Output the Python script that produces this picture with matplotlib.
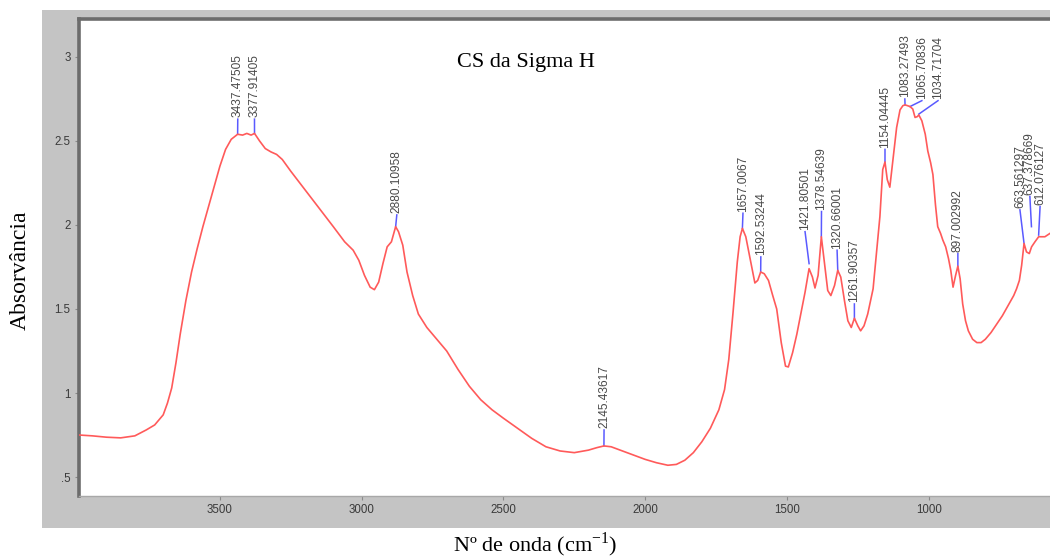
import matplotlib
matplotlib.use("Agg")
import matplotlib.pyplot as plt
from matplotlib.patches import Rectangle
from matplotlib.ticker import FixedLocator, FuncFormatter

# absorbance spectrum, wavenumber in cm-1
wavenumber = [
    3997, 3950, 3900, 3850, 3800, 3760, 3730, 3700, 3685, 3670, 3655, 3640, 3620,
    3600, 3580, 3560, 3540, 3520, 3500, 3480, 3460, 3437.47505, 3420, 3405, 3390,
    3377.91405, 3360, 3340, 3320, 3300, 3280, 3250, 3200, 3150, 3100, 3060, 3030,
    3010, 2990, 2970, 2955, 2940, 2925, 2910, 2895, 2880.10958, 2870, 2855, 2840,
    2820, 2800, 2770, 2740, 2700, 2660, 2620, 2580, 2540, 2500, 2450, 2400, 2350,
    2300, 2250, 2200, 2170, 2145.43617, 2120, 2080, 2040, 2000, 1960, 1920, 1890,
    1860, 1830, 1800, 1770, 1740, 1720, 1705, 1690, 1675, 1665, 1657.0067, 1645,
    1630, 1613, 1603, 1592.53244, 1580, 1565, 1550, 1536, 1520, 1505, 1495, 1480,
    1465, 1450, 1436, 1421.80501, 1410, 1401, 1390, 1378.54639, 1368, 1356, 1345,
    1332, 1320.66001, 1310, 1297, 1285, 1273, 1261.90357, 1250, 1240, 1228, 1215,
    1205, 1196, 1185, 1172, 1162, 1154.04445, 1146, 1137, 1125, 1113, 1101,
    1091, 1083.27493, 1074, 1065.70836, 1056, 1048, 1040, 1034.71704, 1024, 1012,
    1003, 993, 985, 976, 968, 958, 950, 940, 930, 922, 914, 905, 897.002992, 889,
    880, 870, 860, 845, 830, 815, 800, 780, 760, 740, 720, 700, 690, 680, 672,
    663.561297, 655, 645, 637, 625, 612.076127, 600, 590, 572,
]
absorbance = [
    0.75, 0.745, 0.737, 0.733, 0.745, 0.78, 0.81, 0.87, 0.94, 1.03, 1.18, 1.35, 1.55,
    1.72, 1.86, 1.99, 2.11, 2.23, 2.35, 2.45, 2.51, 2.54, 2.535, 2.545, 2.535,
    2.545, 2.5, 2.455, 2.435, 2.42, 2.39, 2.32, 2.21, 2.1, 1.99, 1.9, 1.85,
    1.79, 1.7, 1.63, 1.615, 1.66, 1.77, 1.87, 1.9, 1.99, 1.96, 1.88, 1.72,
    1.58, 1.47, 1.39, 1.33, 1.25, 1.14, 1.04, 0.96, 0.9, 0.85, 0.79, 0.73, 0.68,
    0.655, 0.645, 0.66, 0.675, 0.685, 0.68, 0.655, 0.63, 0.605, 0.585, 0.57, 0.575,
    0.6, 0.645, 0.71, 0.79, 0.9, 1.02, 1.2, 1.48, 1.78, 1.93, 1.98, 1.93,
    1.8, 1.655, 1.67, 1.72, 1.71, 1.67, 1.58, 1.5, 1.3, 1.16, 1.155, 1.24,
    1.35, 1.48, 1.6, 1.74, 1.69, 1.625, 1.7, 1.93, 1.78, 1.61, 1.58,
    1.64, 1.73, 1.69, 1.55, 1.43, 1.39, 1.445, 1.4, 1.37, 1.4, 1.47,
    1.55, 1.62, 1.82, 2.05, 2.33, 2.375, 2.27, 2.225, 2.4, 2.58, 2.685,
    2.71, 2.715, 2.71, 2.705, 2.69, 2.64, 2.645, 2.655, 2.62, 2.54,
    2.44, 2.37, 2.3, 2.12, 1.99, 1.95, 1.91, 1.87, 1.8, 1.73, 1.63, 1.7, 1.755, 1.68,
    1.53, 1.43, 1.37, 1.32, 1.3, 1.3, 1.32, 1.36, 1.41, 1.46, 1.52, 1.58, 1.62, 1.67, 1.76,
    1.89, 1.84, 1.83, 1.87, 1.9, 1.93, 1.93, 1.93, 1.95,
]

# marked peaks: text, peak position, text anchor (wavenumber, absorbance)
peak_text = [
    "3437.47505", "3377.91405", "2880.10958", "2145.43617", "1657.0067",
    "1592.53244", "1421.80501", "1378.54639", "1320.66001", "1261.90357",
    "1154.04445", "1083.27493", "1065.70836", "1034.71704", "897.002992",
    "663.561297", "637.378669", "612.076127",
]
peak_wn = [
    3437.47505, 3377.91405, 2880.10958, 2145.43617, 1657.0067,
    1592.53244, 1421.80501, 1378.54639, 1320.66001, 1261.90357,
    1154.04445, 1083.27493, 1065.70836, 1034.71704, 897.002992,
    663.561297, 637.378669, 612.076127,
]
peak_abs = [
    2.545, 2.545, 1.99, 0.685, 1.98,
    1.72, 1.77, 1.93, 1.73, 1.445,
    2.375, 2.715, 2.705, 2.66, 1.755,
    1.89, 1.99, 1.94,
]
label_wn = [
    3437, 3378, 2876, 2145, 1655,
    1592, 1436, 1378, 1323, 1262,
    1154, 1084, 1024, 967, 897,
    678, 643, 607,
]
label_abs = [
    2.64, 2.64, 2.07, 0.79, 2.08,
    1.82, 1.97, 2.09, 1.86, 1.54,
    2.46, 2.76, 2.75, 2.75, 1.84,
    2.1, 2.18, 2.12,
]

x_ticks = [3500, 3000, 2500, 2000, 1500, 1000]
y_ticks = [0.5, 1.0, 1.5, 2.0, 2.5, 3.0]


def _y_label(value, _pos):
    text = f"{value:g}"
    return text[1:] if text.startswith("0.") else text


def main() -> None:
    serif = "Liberation Serif"
    plt.rcParams["mathtext.fontset"] = "custom"
    plt.rcParams["mathtext.rm"] = serif

    fig = plt.figure(figsize=(10.5, 5.6), dpi=100, facecolor="white")
    # grey frame behind the plotting area
    fig.patches.append(Rectangle((42 / 1050, 32 / 560), 1.0, 518 / 560,
                                 transform=fig.transFigure, facecolor="#c4c4c4",
                                 edgecolor="none", zorder=-10))

    ax = fig.add_axes([79 / 1050, 64 / 560, 1 - 79 / 1050, 477 / 560])
    ax.set_zorder(1)
    ax.set_facecolor("white")
    ax.plot(wavenumber, absorbance, color="#ff5a5a", lw=1.2, zorder=3)

    for text, wn, a, lx, ly in zip(peak_text, peak_wn, peak_abs, label_wn, label_abs):
        ax.plot([wn, lx], [a, ly - 0.01], color="#5a5aff", lw=1.1, zorder=2)
        ax.text(lx, ly, text, rotation=90, ha="center", va="bottom",
                fontsize=8.6, family="Liberation Sans", color="#4a4a4a")

    ax.set_xlim(3997, 572)
    ax.set_ylim(0.387, 3.226)
    ax.xaxis.set_major_locator(FixedLocator(x_ticks))
    ax.yaxis.set_major_locator(FixedLocator(y_ticks))
    ax.yaxis.set_major_formatter(FuncFormatter(_y_label))
    ax.tick_params(axis="both", direction="out", length=3, width=0.8,
                   color="#8a8a8a", labelsize=8.3, labelcolor="#3a3a3a", pad=3)
    for lab in ax.get_xticklabels() + ax.get_yticklabels():
        lab.set_family("Liberation Sans")

    ax.spines["left"].set_color("#6c6c6c")
    ax.spines["left"].set_linewidth(2.6)
    ax.spines["top"].set_color("#6c6c6c")
    ax.spines["top"].set_linewidth(2.6)
    ax.spines["bottom"].set_color("#a8a8a8")
    ax.spines["bottom"].set_linewidth(1.0)
    ax.spines["right"].set_visible(False)

    fig.text(526 / 1050, 1 - 62 / 560, "CS da Sigma H", family=serif,
             fontsize=16, ha="center", va="center")
    fig.text(20 / 1050, 1 - 270 / 560, "Absorvância", family=serif,
             fontsize=17, rotation=90, ha="center", va="center")
    fig.text(535 / 1050, 1 - 545 / 560, r"Nº de onda (cm$^{\mathrm{-1}}$)",
             family=serif, fontsize=16, ha="center", va="center")

    fig.savefig("out.png", dpi=100, facecolor="white")
    plt.close(fig)


if __name__ == "__main__":
    main()
